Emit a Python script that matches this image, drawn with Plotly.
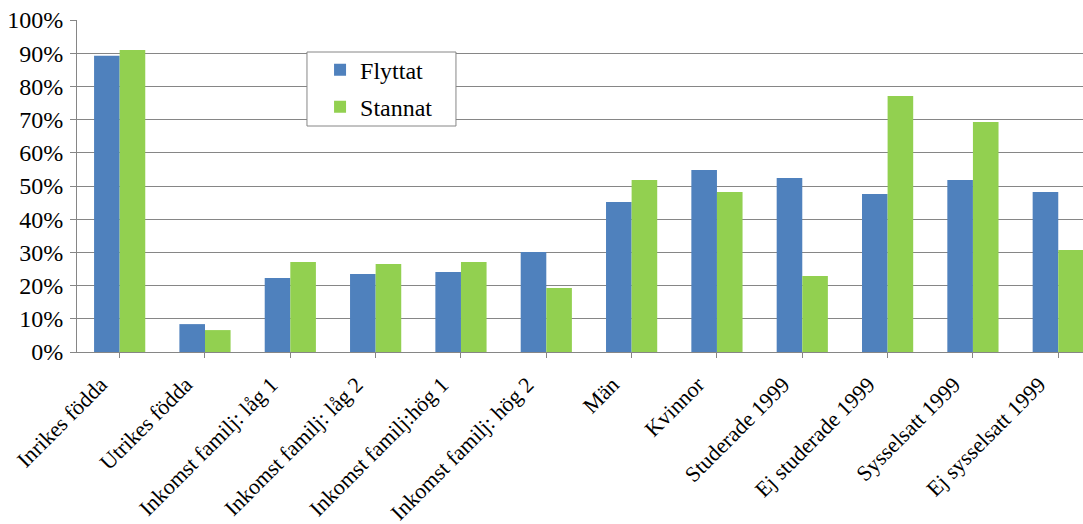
import plotly.graph_objects as go

categories = ["Inrikes födda", "Utrikes födda", "Inkomst familj: låg 1", "Inkomst familj: låg 2",
              "Inkomst familj:hög 1", "Inkomst familj: hög 2", "Män", "Kvinnor",
              "Studerade 1999", "Ej studerade 1999", "Sysselsatt 1999", "Ej sysselsatt 1999"]
flyttat = [0.892, 0.084, 0.223, 0.235, 0.241, 0.301, 0.452, 0.548, 0.524, 0.476, 0.518, 0.482]
stannat = [0.910, 0.066, 0.271, 0.265, 0.271, 0.193, 0.518, 0.482, 0.229, 0.771, 0.693, 0.307]
y_ticks = [0, 0.1, 0.2, 0.3, 0.4, 0.5, 0.6, 0.7, 0.8, 0.9, 1.0]

FONT = "Liberation Serif"
GRID = "#868686"

fig = go.Figure()
fig.add_bar(x=list(range(len(categories))), y=flyttat, name="Flyttat", marker_color="#4F81BD",
            marker_line_width=0, legendgroup="f")
fig.add_bar(x=list(range(len(categories))), y=stannat, name="Stannat", marker_color="#92D050",
            marker_line_width=0, legendgroup="s")

# legend frame
fig.add_shape(type="rect", xref="paper", yref="paper",
              x0=0.2286, x1=0.3767, y0=0.6807, y1=0.9036,
              fillcolor="white", line=dict(color=GRID, width=1), layer="above")

fig.update_layout(
    width=1083, height=524,
    margin=dict(l=77, r=0, t=20, b=172, autoexpand=False),
    paper_bgcolor="white", plot_bgcolor="white",
    barmode="group", bargap=0.4, bargroupgap=0,
    font=dict(family=FONT, color="black", size=21),
    legend=dict(x=0.2416, y=0.917, xanchor="left", yanchor="top",
                bgcolor="rgba(0,0,0,0)", borderwidth=0,
                font=dict(family=FONT, size=24, color="black"),
                itemwidth=30, traceorder="grouped", tracegroupgap=3),
    showlegend=True,
)
fig.update_xaxes(
    range=[-0.5, 11.29], tickmode="array", tickvals=list(range(len(categories))),
    ticktext=categories, tickangle=-45, tickson="boundaries", ticks="outside",
    ticklen=5, tickcolor=GRID, showline=True, linecolor=GRID, linewidth=1,
    showgrid=False, tickfont=dict(family=FONT, size=22, color="black"), zeroline=False,
    automargin=False, ticklabelshift=-19, ticklabelstandoff=5,
)
fig.update_yaxes(
    range=[0, 1.0], tickmode="array", tickvals=y_ticks, tickformat=".0%",
    ticks="outside", ticklen=6, tickcolor=GRID, showline=True, linecolor=GRID,
    linewidth=1, showgrid=True, gridcolor=GRID, gridwidth=1, zeroline=False,
    tickfont=dict(family=FONT, size=24, color="black"), automargin=False,
    ticklabelstandoff=2,
)

force_font = (
    "document.body.style.margin='0';"
    "var gd=document.getElementById('{plot_id}');"
    "gd.querySelectorAll('text').forEach(function(t){"
    "t.style.fontFamily='\"Liberation Serif\", \"Times New Roman\", serif';});"
)

fig.write_html("out.html", include_plotlyjs=True,
               config={"displayModeBar": False},
               post_script=force_font)
